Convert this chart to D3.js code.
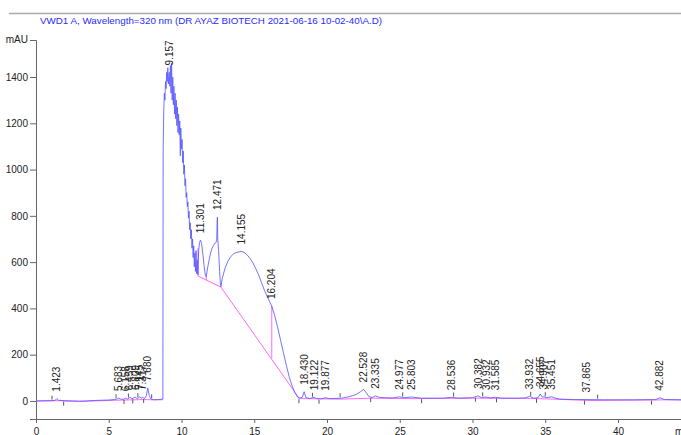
<!DOCTYPE html>
<html><head><meta charset="utf-8">
<script src="https://cdn.jsdelivr.net/npm/d3@7"></script>
<style>body{margin:0;background:#fff}svg{display:block}text{font-family:"Liberation Sans",Arial,Helvetica,sans-serif}</style>
</head><body><svg id="c" width="681" height="435"></svg>
<script>
const title = "VWD1 A, Wavelength=320 nm (DR AYAZ BIOTECH 2021-06-16 10-02-40\\A.D)";
const yUnit = "mAU";
const xUnit = "min";
const xMajorTicks = [0,5,10,15,20,25,30,35,40];
const yMajorTicks = [0,200,400,600,800,1000,1200,1400];

// chromatogram signal (time in min, absorbance in mAU)
const traceTime = [0,0.5,1.0,1.3,1.423,1.55,2.0,2.5,3.0,3.5,4.0,4.5,5.0,5.4,5.55,5.683,5.8,6.0,6.158,6.3,6.459,6.6,6.809,6.95,7.145,7.25,7.317,7.45,7.58,7.68,7.78,7.9,8.1,8.4,8.72,
 8.74,8.78,8.82,8.86,8.9,8.94,8.98,9.02,9.06,9.1,9.157,9.2,9.24,9.28,9.32,9.36,9.4,9.44,9.48,9.52,9.56,9.6,9.64,9.68,9.72,9.76,9.8,9.84,9.88,9.92,9.95,10.0,10.04,10.08,10.12,10.16,10.2,10.24,10.28,10.32,10.36,10.4,10.44,10.48,10.52,10.56,10.6,10.64,10.68,10.72,10.76,10.8,10.84,10.88,10.92,10.96,11.0,11.04,11.08,11.13,
 11.18,11.24,11.301,11.38,11.46,11.55,11.63,11.7,11.78,11.9,12.0,12.1,12.2,12.3,12.42,12.45,12.471,12.49,12.55,12.62,12.68,12.71,12.8,13.0,13.2,13.4,13.6,13.8,14.0,14.155,14.3,14.5,14.7,14.9,15.1,15.3,15.5,15.7,15.9,16.05,16.204,16.4,16.6,16.8,17.0,17.2,17.4,17.6,17.8,18.0,18.07,
 18.3,18.43,18.55,18.8,19.122,19.3,19.6,19.877,20.2,21.0,21.5,22.0,22.3,22.528,22.7,22.9,23.1,23.335,23.6,24.0,24.5,24.977,25.3,25.803,26.5,28.0,28.536,29.0,30.0,30.382,30.6,30.932,31.2,31.585,32.0,33.0,33.6,33.932,34.2,34.5,34.655,34.8,34.907,35.05,35.451,35.7,36.0,37.0,37.865,39.0,40.0,41.0,42.6,42.882,43.2,44.4];
const traceMAU = [0,1,1,2,10,3,1,0,-1,0,2,3,4,6,8,13,8,7,12,8,16,9,17,10,18,11,17,10,22,56,24,8,5,6,8,
 1085,1250,1330,1300,1380,1350,1420,1380,1440,1370,1420,1360,1450,1330,1460,1300,1400,1280,1360,1240,1330,1220,1300,1190,1270,1160,1240,1150,1210,1060,1180,1090,1130,1030,1080,980,1020,930,960,880,900,840,860,790,820,740,770,700,740,660,700,620,670,580,640,560,650,550,610,545,
 650,685,695,680,640,585,548,536,570,610,640,660,672,682,688,780,795,700,650,560,500,493,530,575,605,625,637,642,645,646,642,632,617,598,572,545,512,478,450,430,410,370,320,265,210,155,105,65,35,15,12,
 15,40,15,10,16,10,9,14,10,12,18,28,40,50,35,18,15,22,15,14,13,18,14,17,12,12,16,12,14,22,15,17,13,16,12,12,13,20,12,14,30,16,19,14,18,12,8,6,6,5,5,5,6,14,6,5];

// integration baseline (NaN = break between segments)
const baseTime = [0,1.3,1.55,3.0,5.4,7.45,7.9,8.72,NaN,11.13,12.71,18.07,18.3,21.0,23.1,26.0,30.0,34.0,36.0,38.0,40.0,42.6,43.2,44.4];
const baseMAU  = [-1,1,1,-2,3,6,5,5,NaN,540,492,13,10,8,12,10,12,11,7,2,3,4,5,4];

// drop lines: time, low, high (mAU)
const dropTime = [11.13,11.7,16.204];
const dropLow  = [540,523,186];
const dropHigh = [660,536,410];

// labelled peaks (retention time, min)
const peakTimes = [1.423,5.683,6.158,6.459,6.809,7.145,7.317,7.680,9.157,11.301,12.471,14.155,16.204,18.430,19.122,19.877,22.528,23.335,24.977,25.803,28.536,30.382,30.932,31.585,33.932,34.655,34.907,35.451,37.865,42.882];

// integration event marks (min)
const eventTimes = [1.1,1.9,5.5,6.05,6.35,6.65,7.0,7.4,7.95,18.07,19.0,19.45,20.9,23.0,25.2,26.5,28.7,30.2,30.7,31.65,34.0,34.4,35.0,37.7,38.6,42.3];

const svg = d3.select("#c");
const W = 681, H = 435;
const x = d3.scaleLinear().domain([0, 44.33]).range([36, 681]);
const y = d3.scaleLinear().domain([-78, 1560]).range([419, 40]);
const interp = t => {
  let i = d3.bisectLeft(traceTime, t);
  if (i <= 0) return traceMAU[0];
  if (i >= traceTime.length) return traceMAU[traceTime.length-1];
  const t0 = traceTime[i-1], t1 = traceTime[i];
  if (t1 === t) return traceMAU[i];
  return traceMAU[i-1] + (traceMAU[i]-traceMAU[i-1])*(t-t0)/(t1-t0);
};

// top rule and title
svg.append("line").attr("x1",9).attr("x2",681).attr("y1",13.5).attr("y2",13.5).attr("stroke","#aaa").attr("stroke-width",1.5);
svg.append("text").attr("x",40).attr("y",24).attr("font-size","9.8px").attr("fill","#2a2aff").text(title);

// axes
const gx = svg.append("g").attr("transform","translate(0,419)");
gx.call(d3.axisBottom(x).tickValues(d3.range(0,45,1)).tickSize(3).tickFormat(""));
gx.call(d3.axisBottom(x).tickValues(xMajorTicks).tickSize(4).tickPadding(5).tickFormat(d3.format("d")));
gx.selectAll("path.domain").attr("stroke","#666");
gx.selectAll("line").attr("stroke","#666");
gx.selectAll("text").attr("font-size","10px").attr("fill","#222").attr("font-family","Liberation Sans, Arial, sans-serif");
svg.append("text").attr("x",675).attr("y",435).attr("font-size","10px").attr("fill","#222").text(xUnit);

const gy = svg.append("g").attr("transform","translate(36,0)");
gy.call(d3.axisLeft(y).tickValues(d3.range(-50,1560,50)).tickSize(3).tickFormat(""));
gy.call(d3.axisLeft(y).tickValues(yMajorTicks).tickSize(6).tickPadding(2).tickFormat(d3.format("d")));
gy.selectAll("path.domain").attr("stroke","#666");
gy.selectAll("line").attr("stroke","#666");
gy.selectAll("text").attr("font-size","10px").attr("fill","#222").attr("font-family","Liberation Sans, Arial, sans-serif");
svg.append("text").attr("x",28).attr("y",43).attr("text-anchor","end").attr("font-size","10px").attr("fill","#222").text(yUnit);

// baseline
const baseData = baseTime.map((t,i)=>[t, baseMAU[i]]);
const line = d3.line().defined(d=>!isNaN(d[0])).x(d=>x(d[0])).y(d=>y(d[1]));
svg.append("path").attr("d", line(baseData)).attr("fill","none").attr("stroke","#ff66ff").attr("stroke-width",1);
dropTime.forEach((t,i)=>{
  svg.append("line").attr("x1",x(t)).attr("x2",x(t)).attr("y1",y(dropLow[i])).attr("y2",y(dropHigh[i])).attr("stroke","#ff66ff").attr("stroke-width",1);
});

// trace
const traceData = traceTime.map((t,i)=>[t, traceMAU[i]]);
svg.append("path").attr("d", line(traceData)).attr("fill","none").attr("stroke","#5a5aff").attr("stroke-opacity",0.85).attr("stroke-width",1);

// event marks
eventTimes.forEach((t,i)=>{
  const yy = y(interp(t));
  const up = i % 2 === 0;
  svg.append("line").attr("x1",x(t)).attr("x2",x(t)).attr("y1", up ? yy-5 : yy+1).attr("y2", up ? yy-1 : yy+5).attr("stroke","#555").attr("stroke-width",1);
});

// peak labels
peakTimes.forEach(t=>{
  const px = x(t) + 3.5, py = y(interp(t)) - 7;
  svg.append("text").attr("transform",`translate(${px},${py}) rotate(-90)`).attr("font-size","10px").attr("fill","#222").text(t.toFixed(3));
});
</script></body></html>
